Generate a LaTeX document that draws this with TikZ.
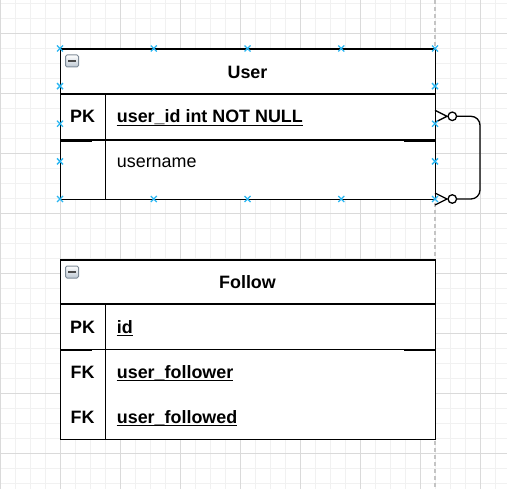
\documentclass[tikz,border=0pt]{standalone}
\usepackage{fontspec}
\setmainfont{Liberation Sans}
\definecolor{gridminor}{HTML}{F1F1F1}
\definecolor{gridmajor}{HTML}{DADADA}
\definecolor{handle}{HTML}{29B6F2}
\definecolor{pagebrk}{HTML}{C4C4C4}
\definecolor{iconborder}{HTML}{7E8B98}
\definecolor{iconfill}{HTML}{BCC7D2}
\definecolor{iconbar}{HTML}{4A4A4A}
\tikzset{
  cell/.style={draw=black, line width=1.3bp, fill=white, inner sep=0pt, anchor=north west},
  lbl/.style={inner sep=0pt, anchor=base, font=\fontsize{17.9bp}{20bp}\selectfont},
  blbl/.style={inner sep=0pt, anchor=base, font=\fontsize{17.9bp}{20bp}\selectfont\bfseries},
  uline/.style={draw=black, line width=1.3bp},
  septhick/.style={draw=black, line width=2.3bp},
  conn/.style={draw=black, line width=1.3bp, rounded corners=9bp},
  foot/.style={draw=black, line width=1.3bp},
  ring/.style={circle, draw=black, fill=white, line width=1.3bp, minimum size=8.5bp, inner sep=0pt},
  handlemark/.style={draw=handle, line width=1.3bp},
  iconbox/.style={draw=iconborder, rounded corners=1.5bp, top color=white, bottom color=iconfill, minimum width=13bp, minimum height=12bp, inner sep=0pt, line width=1bp},
  iconminus/.style={draw=iconbar, line width=2.2bp},
}
\begin{document}
\begin{tikzpicture}[x=1bp,y=-1bp]
  \useasboundingbox (0,0) rectangle (507,489);
  \fill[white] (0,0) rectangle (507,489);
  % grid
  \foreach \x in {15,30,...,495} \draw[gridminor, line width=0.8bp] (\x,0) -- (\x,489);
  \foreach \y in {3,18,...,483} \draw[gridminor, line width=0.8bp] (0,\y) -- (507,\y);
  \foreach \x in {0,60,...,480} \draw[gridmajor, line width=0.9bp] (\x,0) -- (\x,489);
  \foreach \y in {33,93,...,453} \draw[gridmajor, line width=0.9bp] (0,\y) -- (507,\y);
  % page break
  \draw[pagebrk, line width=1.4bp, dash pattern=on 4bp off 3bp] (435,0) -- (435,489);

  % ---------- User table ----------
  \node[cell, minimum width=375bp, minimum height=45bp] (uhead) at (60,48.5) {};
  \node[cell, minimum width=45bp, minimum height=46bp] (ukey1) at (60,93.5) {};
  \node[cell, minimum width=330bp, minimum height=46bp] (ufld1) at (105,93.5) {};
  \node[cell, minimum width=45bp, minimum height=59.5bp] (ukey2) at (60,139.5) {};
  \node[cell, minimum width=330bp, minimum height=59.5bp] (ufld2) at (105,139.5) {};
  \draw[septhick] (ukey1.south west) -- ([xshift=32bp]ukey1.south west);
  \draw[septhick] ([xshift=-32bp]ufld1.south east) -- (ufld1.south east);
  \node[iconbox] (uicon) at (72,61) {};
  \draw[iconminus] ([xshift=-3.8bp]uicon.center) -- ([xshift=3.8bp]uicon.center);
  \node[blbl] (utitle) at (247.5,78.3) {User};
  \node[blbl] (upk) at (82.5,123) {PK};
  \node[blbl, anchor=base west] (uid) at (116.7,123) {user\_id int NOT NULL};
  \draw[uline] ([yshift=-2.3bp]uid.base west) -- ([yshift=-2.3bp]uid.base east);
  \node[lbl, anchor=base west] (uname) at (116.7,168) {username};

  % ---------- Follow table ----------
  \node[cell, minimum width=375bp, minimum height=44bp] (fhead) at (60,259.3) {};
  \node[cell, minimum width=45bp, minimum height=45.7bp] (fkey1) at (60,303.3) {};
  \node[cell, minimum width=330bp, minimum height=45.7bp] (ffld1) at (105,303.3) {};
  \node[cell, minimum width=45bp, minimum height=90bp] (fkey2) at (60,349) {};
  \node[cell, minimum width=330bp, minimum height=90bp] (ffld2) at (105,349) {};
  \draw[septhick] (fkey1.south west) -- ([xshift=32bp]fkey1.south west);
  \draw[septhick] ([xshift=-32bp]ffld1.south east) -- (ffld1.south east);
  \node[iconbox] (ficon) at (72,272) {};
  \draw[iconminus] ([xshift=-3.8bp]ficon.center) -- ([xshift=3.8bp]ficon.center);
  \node[blbl] (ftitle) at (247.5,288.3) {Follow};
  \node[blbl] (fpk) at (82.5,333) {PK};
  \node[blbl, anchor=base west] (fid) at (116.7,333) {id};
  \draw[uline] ([yshift=-2.3bp]fid.base west) -- ([yshift=-2.3bp]fid.base east);
  \node[blbl] (ffk1) at (82.5,378) {FK};
  \node[blbl, anchor=base west] (ffollower) at (116.7,378) {user\_follower};
  \draw[uline] ([yshift=-2.3bp]ffollower.base west) -- ([yshift=-2.3bp]ffollower.base east);
  \node[blbl] (ffk2) at (82.5,423) {FK};
  \node[blbl, anchor=base west] (ffollowed) at (116.7,423) {user\_followed};
  \draw[uline] ([yshift=-2.3bp]ffollowed.base west) -- ([yshift=-2.3bp]ffollowed.base east);

  % ---------- self relation (zero-to-many both ends) ----------
  \coordinate (a1t) at (435,110.3);
  \coordinate (a1b) at (435,122.3);
  \coordinate (a1f) at (447,116.3);
  \node[ring] (o1) at (452.3,116.3) {};
  \coordinate (a2t) at (435,193);
  \coordinate (a2b) at (435,205);
  \coordinate (a2f) at (447,199);
  \node[ring] (o2) at (452.3,199) {};
  \coordinate (rt) at (480,157);
  \draw[foot] (a1t) -- (a1f) -- (a1b);
  \draw[foot] (a2t) -- (a2f) -- (a2b);
  \draw[conn] (o1.east) -| (rt) |- (o2.east);

  % ---------- selection handles ----------
  \foreach \x in {60,153.75,247.5,341.25,435} {
    \foreach \y in {48.5,199} {
      \draw[handlemark] ({\x-3},{\y-3}) -- ({\x+3},{\y+3}) ({\x-3},{\y+3}) -- ({\x+3},{\y-3});
    }
  }
  \foreach \x in {60,435} {
    \foreach \y in {86.1,123.75,161.4} {
      \draw[handlemark] ({\x-3},{\y-3}) -- ({\x+3},{\y+3}) ({\x-3},{\y+3}) -- ({\x+3},{\y-3});
    }
  }
\end{tikzpicture}
\end{document}
